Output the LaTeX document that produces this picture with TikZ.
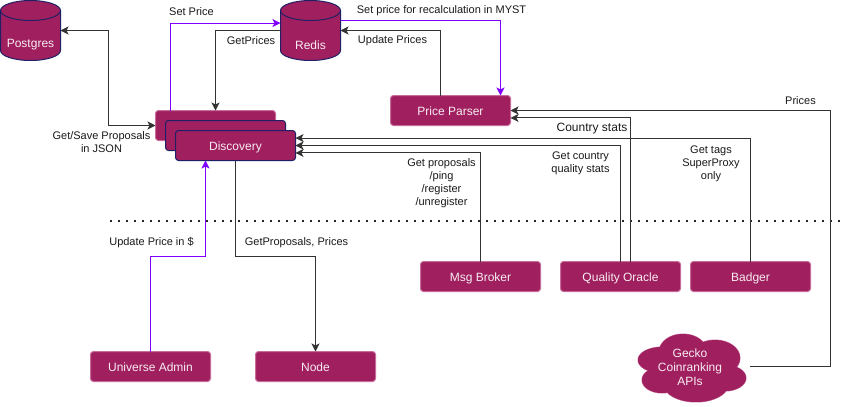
\documentclass[tikz,border=0pt]{standalone}
\usepackage{fontspec}
\setmainfont{Liberation Sans}
\usetikzlibrary{arrows.meta}
\definecolor{boxfill}{HTML}{A01F5F}
\definecolor{navy}{HTML}{1F1F66}
\definecolor{pinkline}{HTML}{C66B9A}
\definecolor{ink}{HTML}{1A1A1A}
\definecolor{conn}{HTML}{333333}
\definecolor{violetline}{HTML}{7F00FF}
\tikzset{
  box/.style={rectangle,rounded corners=2.25pt,fill=boxfill,draw=pinkline,line width=.75pt,minimum width=90pt,minimum height=22.5pt,inner sep=0pt,outer sep=0pt,text=white!92!boxfill,text height=7.2pt,text depth=0pt,font=\fontsize{9}{10.5}\selectfont},
  navybox/.style={box,draw=navy},
  lab/.style={inner sep=0pt,text=ink,align=center,font=\fontsize{8.25}{9.75}\selectfont},
  biglab/.style={lab,font=\fontsize{9}{10.5}\selectfont},
  wire/.style={draw=conn,line width=.75pt,-{Stealth[length=6pt,width=6pt,inset=1.5pt]}},
  wirevio/.style={wire,draw=violetline},
  cylbody/.style={fill=boxfill,draw=navy,line width=.75pt},
  cylbox/.style={inner sep=0pt,outer sep=0pt,minimum width=45pt,minimum height=45pt},
  ghost/.style={inner sep=0pt,outer sep=0pt,text=white!92!boxfill,align=center,font=\fontsize{9}{10.5}\selectfont},
}
\newcommand{\mycyl}[4]{%
  \path[cylbody] (#2-30,#3-20) -- (#2-30,#3+20)
     .. controls (#2-30,#3+25.5) and (#2-16.5,#3+30) .. (#2,#3+30)
     .. controls (#2+16.5,#3+30) and (#2+30,#3+25.5) .. (#2+30,#3+20)
     -- (#2+30,#3-20)
     .. controls (#2+30,#3-25.5) and (#2+16.5,#3-30) .. (#2,#3-30)
     .. controls (#2-16.5,#3-30) and (#2-30,#3-25.5) .. (#2-30,#3-20) -- cycle;
  \path[cylbody,fill=none] (#2-30,#3-20)
     .. controls (#2-30,#3-14.5) and (#2-16.5,#3-10) .. (#2,#3-10)
     .. controls (#2+16.5,#3-10) and (#2+30,#3-14.5) .. (#2+30,#3-20);
  \node[cylbox] (#1) at (#2,#3) {};
  \node[ghost] (#1text) at (#2,#3+14.5) {#4};
}
\begin{document}
\begin{tikzpicture}[x=.75pt,y=-.75pt]
\useasboundingbox (0,0) rectangle (843,407);
\fill[white] (0,0) rectangle (843,407);
% dotted separator
\coordinate (dotL) at (110,220.5);
\coordinate (dotR) at (843,220.5);
\draw[black!85,line width=1.5pt,dash pattern=on 1.5pt off 4.5pt] (dotL) -- (dotR);
% nodes
\mycyl{postgres}{30.5}{30.5}{Postgres}
\mycyl{redis}{310.5}{30.5}{Redis}
\node[box] (back) at (215.5,125.5) {};
\node[navybox] (mid) at (225.5,135.5) {};
\node[navybox] (disc) at (235.5,145.5) {Discovery};
\node[box] (parser) at (450.5,110.5) {Price Parser};
\node[box] (msg) at (480.5,276.5) {Msg Broker};
\node[box] (oracle) at (620.5,276.5) {Quality Oracle};
\node[box] (badger) at (750.5,276.5) {Badger};
\node[box] (admin) at (150.5,366.5) {Universe Admin};
\node[box] (nodebox) at (315.5,366.5) {Node};
% cloud
\foreach \cx/\cy/\rx/\ry in {683/352/24.5/18.5,662/360/24.5/13.5,715/358/25.5/18.5,725/378/21.5/13.5,662/380/20.5/13.5,696/385/32.5/17.5}{
  \fill[pinkline] (\cx,\cy) ellipse[x radius=\rx,y radius=\ry];
}
\foreach \cx/\cy/\rx/\ry in {683/352/24/18,662/360/24/13,715/358/25/18,725/378/21/13,662/380/20/13,696/385/32/17,692/370/35/20}{
  \fill[boxfill] (\cx,\cy) ellipse[x radius=\rx,y radius=\ry];
}
\node[ghost] (cloud) at (690,367) {Gecko\\Coinranking\\APIs};
\coordinate (cloudout) at (750,366.5);
% connectors
\draw[wire,{Stealth[length=6pt,width=6pt,inset=1.5pt]}-{Stealth[length=6pt,width=6pt,inset=1.5pt]}] (postgres.east) -- (108,30.5) -- (108,125.5) -- (back.west);
\draw[wirevio] ([xshift=-33.75pt]back.north) |- ([yshift=5.6pt]redis.west);
\draw[wire] (redis.west) -- (215.5,30.5) -- (back.north);
\draw[wirevio] ([yshift=7.5pt]redis.east) -| ([xshift=37.5pt]parser.north);
\draw[wire] ([xshift=-7.5pt]parser.north) |- (redis.east);
\draw[wire] (cloudout) -- (830.5,366.5) -- (830.5,110.5) -- (parser.east);
\draw[wire] ([xshift=7.5pt]oracle.north) |- ([yshift=-5.6pt]parser.east);
\draw[wire] (oracle.north) |- (disc.east);
\draw[wire] (badger.north) |- ([yshift=5.6pt]disc.east);
\draw[wire] (msg.north) |- ([yshift=-5.6pt]disc.east);
\draw[wire] (disc.south) -- (235.5,256) -| (nodebox.north);
\draw[wirevio] (admin.north) |- (205.5,256) -- ([xshift=-22.5pt]disc.south);
% labels
\node[lab] (l1) at (191.5,11.5) {Set Price};
\node[lab] (l2) at (251,41) {GetPrices};
\node[lab] (l3) at (441.5,10.5) {Set price for recalculation in MYST};
\node[lab] (l4) at (392.5,41) {Update Prices};
\node[lab] (l5) at (101.5,142.5) {Get/Save Proposals\\in JSON};
\node[lab] (l6) at (800.5,101) {Prices};
\node[biglab] (l7) at (592,128.5) {Country stats};
\node[lab] (l8) at (580.5,163.5) {Get country\\quality stats};
\node[lab] (l9) at (711,163.5) {Get tags\\SuperProxy\\only};
\node[lab] (l10) at (441.5,183.5) {Get proposals\\/ping\\/register\\/unregister};
\node[lab] (l11) at (151.5,242.5) {Update Price in \$};
\node[lab] (l12) at (296.5,243) {GetProposals, Prices};
\end{tikzpicture}
\end{document}
